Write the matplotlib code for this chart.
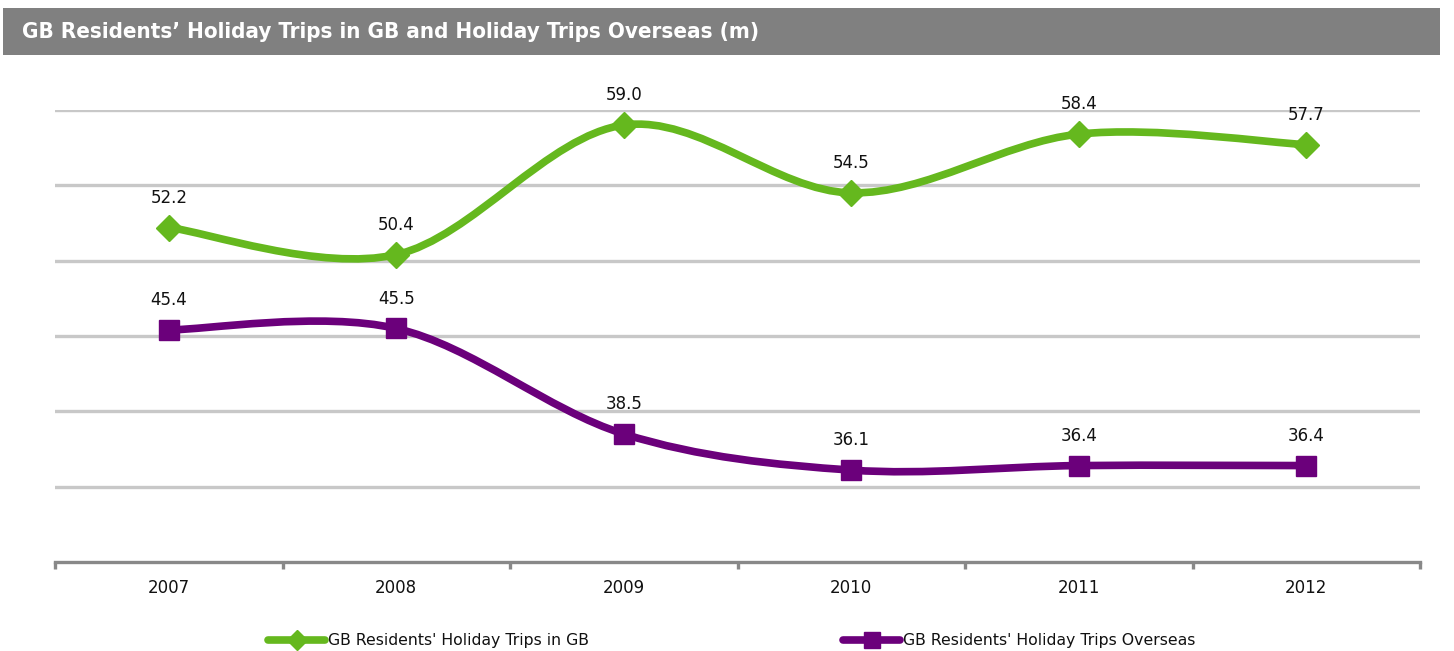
import numpy as np
import matplotlib.pyplot as plt
from matplotlib.path import Path
from matplotlib.patches import PathPatch, Rectangle
from matplotlib.lines import Line2D

years = ['2007', '2008', '2009', '2010', '2011', '2012']
trips_gb = [52.2, 50.4, 59.0, 54.5, 58.4, 57.7]
trips_overseas = [45.4, 45.5, 38.5, 36.1, 36.4, 36.4]
series_names = ["GB Residents' Holiday Trips in GB", "GB Residents' Holiday Trips Overseas"]

green = '#65b81e'
purple = '#6b007b'
font = 'DejaVu Sans'
W, H = 1454, 651


def smooth_path(xs, ys):
    # Bezier segments through each point, Catmull-Rom style handles
    pts = np.column_stack([xs, ys]).astype(float)
    ext = np.vstack([pts[0], pts, pts[-1]])
    verts = [tuple(pts[0])]
    codes = [Path.MOVETO]
    for i in range(len(pts) - 1):
        p0, p1, p2, p3 = ext[i], ext[i + 1], ext[i + 2], ext[i + 3]
        c1 = p1 + (p2 - p0) / 6.0
        c2 = p2 - (p3 - p1) / 6.0
        verts += [tuple(c1), tuple(c2), tuple(p2)]
        codes += [Path.CURVE4] * 3
    return Path(verts, codes)


fig = plt.figure(figsize=(W / 100, H / 100), dpi=100)

# Header bar
fig.patches.append(Rectangle((3 / W, 1 - 55 / H), 1437 / W, 47 / H,
                             transform=fig.transFigure, fc='#808080', ec='none'))
fig.text(22 / W, 1 - 32 / H, 'GB Residents\u2019 Holiday Trips in GB and Holiday Trips Overseas (m)',
         color='white', fontsize=16, fontweight='bold', family=font,
         fontstretch='condensed', va='center', ha='left')

ax = fig.add_axes([55 / W, 1 - 562 / H, 1365 / W, 452 / H])
x = np.arange(len(years))
ax.set_xlim(-0.5, len(years) - 0.5)
ax.set_ylim(30, 60)

for v in range(35, 61, 5):
    ax.axhline(v, color='#c8c8c8', lw=2.4, zorder=1)

for vals, col, mk, ms in [(trips_gb, green, 'D', 13), (trips_overseas, purple, 's', 15)]:
    ax.add_patch(PathPatch(smooth_path(x, vals), fc='none', ec=col, lw=5.5,
                           capstyle='round', zorder=3))
    ax.plot(x, vals, ls='none', marker=mk, ms=ms, color=col, zorder=4, clip_on=False)
    for xi, v in zip(x, vals):
        ax.annotate(f'{v:.1f}', (xi, v), xytext=(0, 15), textcoords='offset points',
                    ha='center', va='bottom', fontsize=12, family=font, color='#111111')

for s in ['top', 'right', 'left']:
    ax.spines[s].set_visible(False)
ax.spines['bottom'].set_color('#888888')
ax.spines['bottom'].set_linewidth(2.4)
ax.set_yticks([])
ax.set_xticks(np.arange(-0.5, len(years), 1.0))
ax.set_xticklabels([])
ax.tick_params(axis='x', length=5, width=2.4, color='#888888')
ax.set_xticks(x, minor=True)
ax.set_xticklabels(years, minor=True, fontsize=12, family=font, color='#111111')
ax.tick_params(axis='x', which='minor', length=0, pad=12)

# Legend along the bottom, placed item by item
ly = 1 - 640 / H
for (x0, x1), col, mk, ms, name in [((268, 325), green, 'D', 10, series_names[0]),
                                    ((843, 900), purple, 's', 12, series_names[1])]:
    fig.add_artist(Line2D([x0 / W, x1 / W], [ly, ly], color=col, lw=5.5,
                          solid_capstyle='round', transform=fig.transFigure))
    fig.add_artist(Line2D([(x0 + x1) / 2 / W], [ly], ls='none', marker=mk, ms=ms,
                          color=col, transform=fig.transFigure))
    fig.text((x1 + 3) / W, ly, name, fontsize=11.3, family=font, color='#111111',
             ha='left', va='center')

fig.savefig('out.png', dpi=100)
